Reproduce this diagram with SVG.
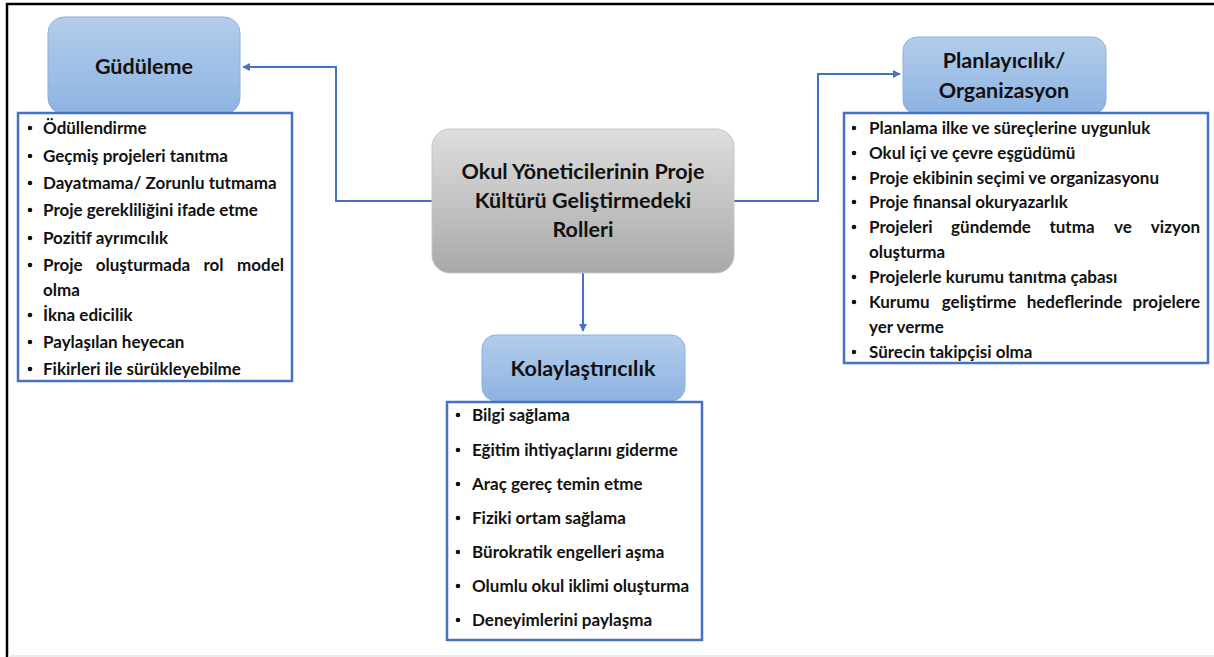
<svg xmlns="http://www.w3.org/2000/svg" width="1214" height="657" viewBox="0 0 1214 657">
<defs>
<linearGradient id="gBlue" x1="0" y1="0" x2="0" y2="1">
<stop offset="0" stop-color="#b3cdeb"/>
<stop offset="1" stop-color="#8db3e2"/>
</linearGradient>
<linearGradient id="gGray" x1="0" y1="0" x2="0" y2="1">
<stop offset="0" stop-color="#dedede"/>
<stop offset="1" stop-color="#a9a9a9"/>
</linearGradient>
<marker id="arr" viewBox="0 0 10 10" refX="9" refY="5" markerWidth="4" markerHeight="4" orient="auto" markerUnits="strokeWidth">
<path d="M0,0 L10,5 L0,10 z" fill="#4472c4"/>
</marker>
<style>
.head{fill:url(#gBlue);stroke:#8eb0dc;stroke-width:1}
.center{fill:url(#gGray);stroke:#c4c4c4;stroke-width:1}
.list{fill:#ffffff;stroke:#4472c4;stroke-width:2.5}
.conn{fill:none;stroke:#4472c4;stroke-width:2}
.t{font-family:"Lato","Liberation Sans",sans-serif;font-weight:bold;fill:#111111}
.ht{font-size:21.5px;text-anchor:middle}
.it{font-size:17px}
.e{text-anchor:end}
.m{text-anchor:middle}
.b{fill:#111111}
</style>
</defs>
<rect x="0" y="0" width="1214" height="657" fill="#ffffff"/>
<path d="M7,657 L7,4 L1214,4" fill="none" stroke="#000000" stroke-width="2.5"/>
<line x1="8" y1="656" x2="1214" y2="656" stroke="#e6e6e6" stroke-width="1.5"/>

<g id="connectors">
<path class="conn" d="M432,201 L336,201 L336,67 L243,67" marker-end="url(#arr)"/>
<path class="conn" d="M734,201 L818,201 L818,74 L900,74" marker-end="url(#arr)"/>
<path class="conn" d="M583,273 L583,331" marker-end="url(#arr)"/>
</g>

<g id="center">
<rect class="center" x="432" y="129" width="302" height="144" rx="18"/>
<text class="t ht" x="583" y="179">Okul Yöneticilerinin Proje</text>
<text class="t ht" x="583" y="208">Kültürü Geliştirmedeki</text>
<text class="t ht" x="583" y="237">Rolleri</text>
</g>

<g id="gudulemeHead">
<rect class="head" x="48" y="17" width="192" height="97" rx="16"/>
<text class="t ht" x="144" y="74">Güdüleme</text>
</g>
<g id="gudulemeList">
<rect class="list" x="18" y="113" width="274" height="268"/>
<g class="b">
<circle cx="30" cy="128" r="2.3"/><circle cx="30" cy="156" r="2.3"/><circle cx="30" cy="183" r="2.3"/>
<circle cx="30" cy="210" r="2.3"/><circle cx="30" cy="238" r="2.3"/><circle cx="30" cy="265" r="2.3"/>
<circle cx="30" cy="315" r="2.3"/><circle cx="30" cy="342" r="2.3"/><circle cx="30" cy="369" r="2.3"/>
</g>
<g class="t it">
<text x="43" y="134">Ödüllendirme</text>
<text x="43" y="162">Geçmiş projeleri tanıtma</text>
<text x="43" y="189">Dayatmama/ Zorunlu tutmama</text>
<text x="43" y="216">Proje gerekliliğini ifade etme</text>
<text x="43" y="244">Pozitif ayrımcılık</text>
<text x="43" y="271">Proje</text><text class="m" x="143" y="271">oluşturmada</text><text class="m" x="213.5" y="271">rol</text><text class="e" x="284" y="271">model</text>
<text x="43" y="296">olma</text>
<text x="43" y="321">İkna edicilik</text>
<text x="43" y="348">Paylaşılan heyecan</text>
<text x="43" y="375">Fikirleri ile sürükleyebilme</text>
</g>
</g>

<g id="planHead">
<rect class="head" x="903" y="37" width="203" height="77" rx="14"/>
<text class="t ht" x="1004" y="68">Planlayıcılık/</text>
<text class="t ht" x="1004" y="98">Organizasyon</text>
</g>
<g id="planList">
<rect class="list" x="844" y="113" width="364" height="250"/>
<g class="b">
<circle cx="854" cy="128" r="2.3"/><circle cx="854" cy="153" r="2.3"/><circle cx="854" cy="178" r="2.3"/>
<circle cx="854" cy="202" r="2.3"/><circle cx="854" cy="227" r="2.3"/><circle cx="854" cy="277" r="2.3"/>
<circle cx="854" cy="302" r="2.3"/><circle cx="854" cy="352" r="2.3"/>
</g>
<g class="t it">
<text x="869" y="134">Planlama ilke ve süreçlerine uygunluk</text>
<text x="869" y="159">Okul içi ve çevre eşgüdümü</text>
<text x="869" y="184">Proje ekibinin seçimi ve organizasyonu</text>
<text x="869" y="208">Proje finansal okuryazarlık</text>
<text x="869" y="233">Projeleri</text><text class="m" x="991" y="233">gündemde</text><text class="m" x="1072" y="233">tutma</text><text class="m" x="1123" y="233">ve</text><text class="e" x="1200" y="233">vizyon</text>
<text x="869" y="258">oluşturma</text>
<text x="869" y="283">Projelerle kurumu tanıtma çabası</text>
<text x="869" y="308">Kurumu</text><text class="m" x="979" y="308">geliştirme</text><text class="m" x="1074.5" y="308">hedeflerinde</text><text class="e" x="1200" y="308">projelere</text>
<text x="869" y="333">yer verme</text>
<text x="869" y="358">Sürecin takipçisi olma</text>
</g>
</g>

<g id="kolayHead">
<rect class="head" x="482" y="335" width="203" height="66" rx="14"/>
<text class="t ht" x="583" y="376">Kolaylaştırıcılık</text>
</g>
<g id="kolayList">
<rect class="list" x="447" y="402" width="255" height="238"/>
<g class="b">
<circle cx="458" cy="415" r="2.3"/><circle cx="458" cy="450" r="2.3"/><circle cx="458" cy="484" r="2.3"/>
<circle cx="458" cy="518" r="2.3"/><circle cx="458" cy="552" r="2.3"/><circle cx="458" cy="586" r="2.3"/>
<circle cx="458" cy="620" r="2.3"/>
</g>
<g class="t it">
<text x="472" y="421">Bilgi sağlama</text>
<text x="472" y="456">Eğitim ihtiyaçlarını giderme</text>
<text x="472" y="490">Araç gereç temin etme</text>
<text x="472" y="524">Fiziki ortam sağlama</text>
<text x="472" y="558">Bürokratik engelleri aşma</text>
<text x="472" y="592">Olumlu okul iklimi oluşturma</text>
<text x="472" y="626">Deneyimlerini paylaşma</text>
</g>
</g>
</svg>
